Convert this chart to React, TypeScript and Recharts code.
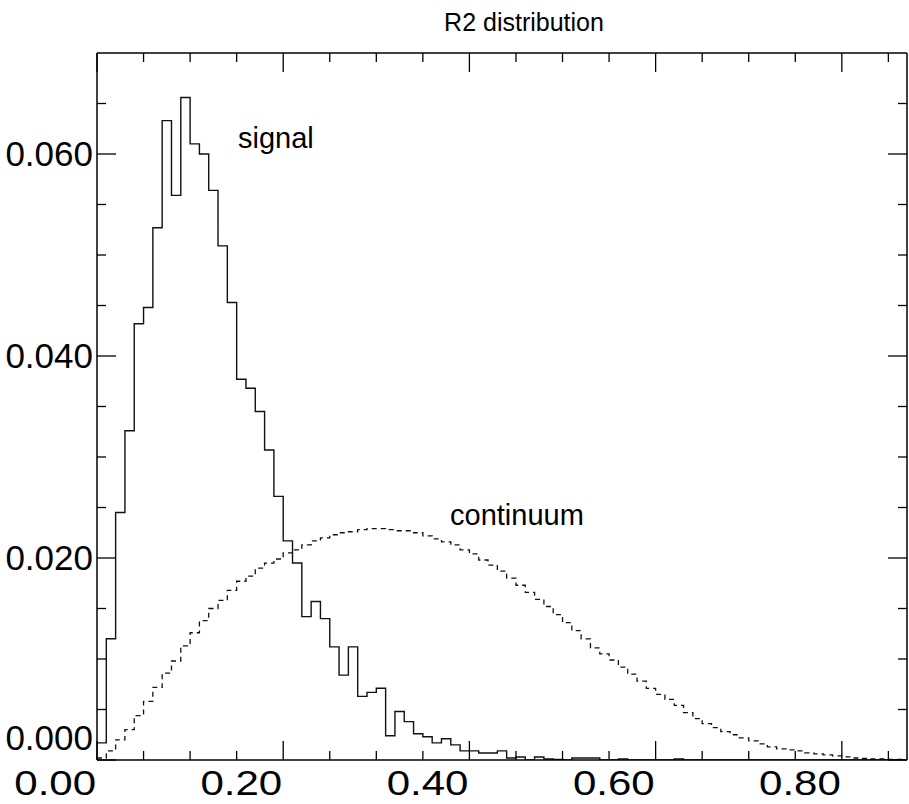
import React from 'react';
import { LineChart, Line, XAxis, YAxis } from 'recharts';

// histogram contents, one value per 0.01 bin starting at 0.00
const signalBins = [
  0.0017, 0.0120, 0.0245, 0.0326, 0.0432, 0.0448, 0.0527, 0.0633, 0.0559, 0.0656,
  0.0610, 0.0600, 0.0564, 0.0509, 0.0453, 0.0377, 0.0368, 0.0345, 0.0307, 0.0261,
  0.0217, 0.0195, 0.0142, 0.0157, 0.0140, 0.0112, 0.0084, 0.0112, 0.0063, 0.0067,
  0.0071, 0.0024, 0.0048, 0.0038, 0.0026, 0.0023, 0.0017, 0.0021, 0.0015, 0.0009,
  0.0009, 0.0007, 0.0007, 0.0009, 0.0002, 0.0003, 0.0000, 0.0003, 0.0001, 0.00005,
  0.0000, 0.0002, 0.0002, 0.0002, 0.0000, 0.0000, 0.0001, 0.0000, 0.0000, 0.0000,
  0.0000, 0.0000, 0.0001, 0.0000, 0.0000, 0.0000, 0.0000, 0.0000, 0.0000, 0.0000,
  0.0000, 0.0000, 0.0000, 0.0000, 0.0000, 0.0000, 0.0000, 0.0000, 0.0000, 0.0000,
  0.0000, 0.0000, 0.0000, 0.0000, 0.0000, 0.0000, 0.0000,
];

const continuumBins = [
  0.0002, 0.0009, 0.0020, 0.0030, 0.0044, 0.0058, 0.0072, 0.0086, 0.0098, 0.0113,
  0.0126, 0.0138, 0.0150, 0.0158, 0.0168, 0.0177, 0.0182, 0.0190, 0.0195, 0.0199,
  0.0205, 0.0208, 0.0213, 0.0217, 0.0220, 0.0223, 0.0225, 0.0226, 0.0228, 0.0229,
  0.0229, 0.0228, 0.0227, 0.0227, 0.0225, 0.0222, 0.0219, 0.0216, 0.0213, 0.0208,
  0.0204, 0.0198, 0.0193, 0.0187, 0.0180, 0.0173, 0.0166, 0.0159, 0.0152, 0.0144,
  0.0136, 0.0128, 0.0120, 0.0111, 0.0105, 0.0099, 0.0092, 0.0085, 0.0078, 0.0071,
  0.0065, 0.0060, 0.0054, 0.0047, 0.0041, 0.0036, 0.0032, 0.0028, 0.0025, 0.0022,
  0.0019, 0.0016, 0.0013, 0.0011, 0.0010, 0.0009, 0.0007, 0.0006, 0.0005, 0.0004,
  0.0003, 0.0002, 0.00015, 0.0001, 0.0001, 0.00005, 0.00005,
];

const binWidth = 0.01;
const xTicks = [0, 0.05, 0.1, 0.15, 0.2, 0.25, 0.3, 0.35, 0.4, 0.45, 0.5, 0.55, 0.6, 0.65, 0.7, 0.75, 0.8, 0.85];
const yTicks = [0, 0.005, 0.01, 0.015, 0.02, 0.025, 0.03, 0.035, 0.04, 0.045, 0.05, 0.055, 0.06, 0.065];

const FONT = '"Liberation Sans", Arial, Helvetica, sans-serif';

// step points: left edge of every bin, plus a closing point at the last edge
const data = signalBins.map((s, i) => ({ x: i * binWidth, signal: s, continuum: continuumBins[i] }));
data.push({
  x: signalBins.length * binWidth,
  signal: signalBins[signalBins.length - 1],
  continuum: continuumBins[continuumBins.length - 1],
});

const isMultiple = (v: number, step: number) => Math.abs(v / step - Math.round(v / step)) < 1e-6;

const BottomTick = (props: any) => {
  const { x, y, payload } = props;
  const major = isMultiple(payload.value, 0.2);
  return (
    <g>
      <line x1={x} y1={y} x2={x} y2={y - (major ? 19 : 9)} stroke="#000" strokeWidth={1.3} />
      {major && (
        <text
          transform={`translate(${x - 1}, ${y + 35}) scale(1.2, 1)`}
          textAnchor="end"
          fontSize={35}
          fontFamily={FONT}
          fill="#000"
        >
          {payload.value.toFixed(2)}
        </text>
      )}
    </g>
  );
};

const TopTick = (props: any) => {
  const { x, y, payload } = props;
  const major = isMultiple(payload.value, 0.2);
  return <line x1={x} y1={y} x2={x} y2={y + (major ? 19 : 9)} stroke="#000" strokeWidth={1.3} />;
};

const LeftTick = (props: any) => {
  const { x, y, payload } = props;
  const major = isMultiple(payload.value, 0.02);
  // the zero label sits a little above its tick, clear of the x labels
  const shift = payload.value === 0 ? -22 : 0;
  return (
    <g>
      <line x1={x} y1={y} x2={x + (major ? 19 : 9)} y2={y} stroke="#000" strokeWidth={1.3} />
      {major && (
        <text x={x - 4} y={y + 12 + shift} textAnchor="end" fontSize={35} fontFamily={FONT} fill="#000">
          {payload.value.toFixed(3)}
        </text>
      )}
    </g>
  );
};

const RightTick = (props: any) => {
  const { x, y, payload } = props;
  const major = isMultiple(payload.value, 0.02);
  return <line x1={x} y1={y} x2={x - (major ? 19 : 9)} y2={y} stroke="#000" strokeWidth={1.3} />;
};

export default function App() {
  return (
    <div style={{ position: 'absolute', left: 0, top: 0, width: 909, height: 804, background: '#fff' }}>
      <LineChart width={909} height={804} data={data} margin={{ top: 52, right: 1, bottom: 0, left: 0 }}>
        <XAxis
          dataKey="x"
          type="number"
          domain={[0, 0.87]}
          ticks={xTicks}
          interval={0}
          height={44}
          tickSize={0}
          tickMargin={0}
          tickLine={false}
          axisLine={{ stroke: '#000', strokeWidth: 1.5 }}
          tick={<BottomTick />}
          allowDataOverflow
        />
        <XAxis
          xAxisId="top"
          orientation="top"
          dataKey="x"
          type="number"
          domain={[0, 0.87]}
          ticks={xTicks}
          interval={0}
          height={1}
          tickSize={0}
          tickMargin={0}
          tickLine={false}
          axisLine={{ stroke: '#000', strokeWidth: 1.5 }}
          tick={<TopTick />}
          allowDataOverflow
        />
        <YAxis
          type="number"
          domain={[0, 0.07]}
          ticks={yTicks}
          interval={0}
          width={97}
          tickSize={0}
          tickMargin={0}
          tickLine={false}
          axisLine={{ stroke: '#000', strokeWidth: 1.5 }}
          tick={<LeftTick />}
          allowDataOverflow
        />
        <YAxis
          yAxisId="right"
          orientation="right"
          type="number"
          domain={[0, 0.07]}
          ticks={yTicks}
          interval={0}
          width={1}
          tickSize={0}
          tickMargin={0}
          tickLine={false}
          axisLine={{ stroke: '#000', strokeWidth: 1.5 }}
          tick={<RightTick />}
          allowDataOverflow
        />
        <Line
          type="stepAfter"
          dataKey="continuum"
          stroke="#111"
          strokeWidth={1.3}
          strokeDasharray="5 4"
          dot={false}
          activeDot={false}
          isAnimationActive={false}
        />
        <Line
          type="stepAfter"
          dataKey="signal"
          stroke="#111"
          strokeWidth={1.4}
          dot={false}
          activeDot={false}
          isAnimationActive={false}
        />
      </LineChart>
      <svg width={909} height={804} style={{ position: 'absolute', left: 0, top: 0, pointerEvents: 'none' }}>
        <text x={524} y={31} textAnchor="middle" fontSize={25} fontFamily={FONT} fill="#000">
          R2 distribution
        </text>
        <text x={238} y={148} fontSize={29} fontFamily={FONT} fill="#000">
          signal
        </text>
        <text x={450} y={525} fontSize={29} fontFamily={FONT} fill="#000">
          continuum
        </text>
      </svg>
    </div>
  );
}
